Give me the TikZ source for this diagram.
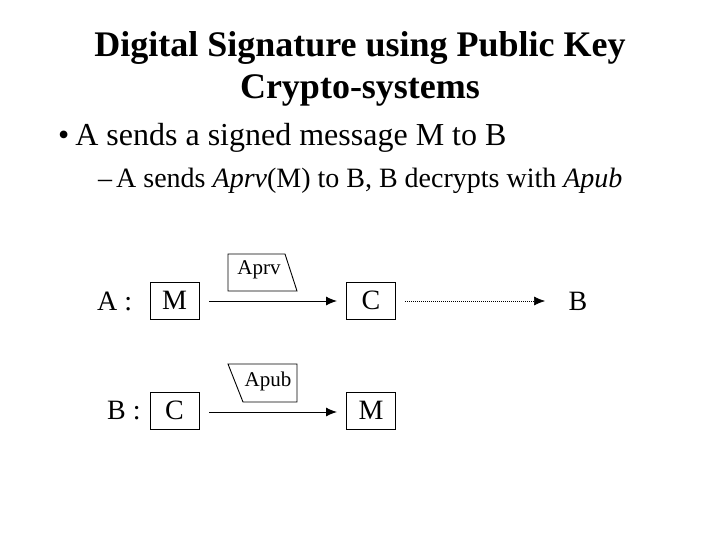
\documentclass[tikz,border=0pt]{standalone}
\usepackage{fontspec}
\setmainfont{Liberation Serif}
\usetikzlibrary{arrows.meta}
\begin{document}
\begin{tikzpicture}[x=1pt,y=-1pt,
  box/.style={draw,line width=0.9pt,minimum width=49pt,minimum height=37pt,inner sep=0pt,font=\fontsize{28}{32}\selectfont},
  lbl/.style={inner sep=0pt,font=\fontsize{28}{32}\selectfont},
  arr/.style={-{Latex[length=11pt,width=9pt]},line width=1pt},
  key/.style={draw,line width=0.9pt}]
\useasboundingbox (0,0) rectangle (720,540);
\node[font=\bfseries\fontsize{36}{42}\selectfont,align=center] (title) at (360,69) {Digital Signature using Public Key\\Crypto-systems};
\node[anchor=west,inner sep=0pt,font=\fontsize{32}{36}\selectfont] (b1) at (58,138) {•\hspace{6pt}A sends a signed message M to B};
\node[anchor=west,inner sep=0pt,font=\fontsize{28}{32}\selectfont] (b2) at (98,181) {–\hspace{4pt}A sends \textit{Aprv}(M) to B, B decrypts with \textit{Apub}};
% row A
\node[lbl,anchor=west] (la) at (97,301) {A :};
\node[box] (m1) at (174.5,300.5) {M};
\node[box] (c1) at (371,300.5) {C};
\node[lbl] (bb) at (578,301) {B};
\coordinate (a1s) at (209,301);
\coordinate (a1e) at (337,301);
\draw[arr] (a1s) -- (a1e);
\coordinate (a2s) at (405,301);
\coordinate (a2e) at (545,301);
\draw[arr,densely dotted,line width=0.6pt] (a2s) -- (a2e);
\draw[key] (228,254) -- (285,254) -- (297,291) -- (228,291) -- cycle;
\node[inner sep=0pt,font=\fontsize{21}{24}\selectfont] (kp) at (259,270) {Aprv};
% row B
\node[lbl,anchor=west] (lb) at (107,411) {B :};
\node[box] (c2) at (174.5,410.5) {C};
\node[box] (m2) at (371,410.5) {M};
\coordinate (b1s) at (209,412);
\coordinate (b1e) at (337,412);
\draw[arr] (b1s) -- (b1e);
\draw[key] (228,364) -- (297,364) -- (297,402) -- (243,402) -- cycle;
\node[inner sep=0pt,font=\fontsize{21}{24}\selectfont] (kb) at (268,381) {Apub};
\end{tikzpicture}
\end{document}
